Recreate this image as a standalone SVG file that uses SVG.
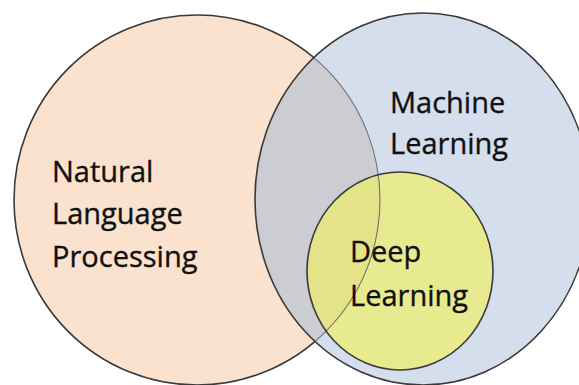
<svg xmlns="http://www.w3.org/2000/svg" width="579" height="385" viewBox="0 0 579 385">
<style>
.lbl{font-family:"Open Sans","Liberation Sans",sans-serif;font-size:29px;fill:#111;stroke:#111;stroke-width:0.35}
.edge{fill:none;stroke:#3a3a3a;stroke-width:1.6}
.faint{fill:none;stroke:#707070;stroke-width:1.1}
</style>
<defs>
<clipPath id="clipNlp"><ellipse cx="197" cy="200" rx="183" ry="185"/></clipPath>
<clipPath id="clipMl"><ellipse cx="423" cy="199" rx="168" ry="186"/></clipPath>
<mask id="outsideMl">
<rect width="579" height="385" fill="#fff"/>
<ellipse cx="423" cy="199" rx="168" ry="186" fill="#000"/>
</mask>
</defs>
<rect width="579" height="385" fill="#ffffff"/>
<g id="nlp">
<ellipse cx="197" cy="200" rx="183" ry="185" fill="#FAE2CF"/>
</g>
<g id="ml">
<ellipse cx="423" cy="199" rx="168" ry="186" fill="#D4DEEC"/>
<ellipse cx="423" cy="199" rx="168" ry="186" fill="#CBCDD3" clip-path="url(#clipNlp)"/>
</g>
<g id="dl">
<ellipse cx="400" cy="271" rx="93" ry="99" fill="#E8EA90"/>
<ellipse cx="400" cy="271" rx="93" ry="99" fill="#E5E389" clip-path="url(#clipNlp)"/>
</g>
<g id="outlines">
<ellipse class="edge" cx="197" cy="200" rx="183" ry="185" mask="url(#outsideMl)"/>
<ellipse class="faint" cx="197" cy="200" rx="183" ry="185" clip-path="url(#clipMl)"/>
<ellipse class="edge" cx="423" cy="199" rx="168" ry="186"/>
<ellipse class="edge" cx="400" cy="271" rx="93" ry="99"/>
</g>
<g id="labels">
<text class="lbl" x="52" y="182">Natural</text>
<text class="lbl" x="52" y="224">Language</text>
<text class="lbl" x="52" y="267">Processing</text>
<text class="lbl" x="390" y="113">Machine</text>
<text class="lbl" x="390" y="154">Learning</text>
<text class="lbl" x="350" y="262">Deep</text>
<text class="lbl" x="350" y="306">Learning</text>
</g>
</svg>
